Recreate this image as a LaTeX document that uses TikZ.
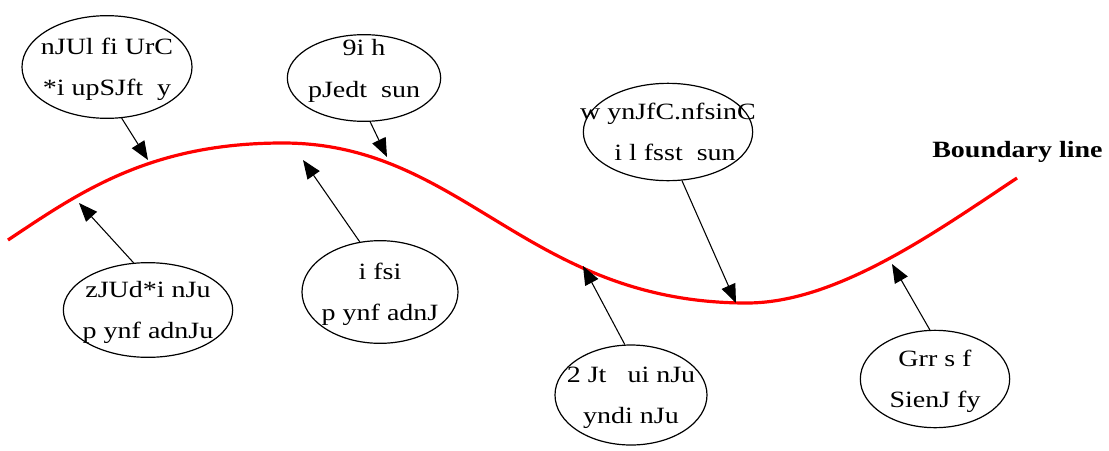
\documentclass[tikz,border=0pt]{standalone}
\usepackage{fontspec}
\setmainfont{Liberation Serif}[FakeStretch=1.2]
\usetikzlibrary{shapes.geometric,arrows.meta}
\newcommand{\twolines}[3][-4.25pt]{\smash{\makebox[0pt]{\raisebox{#1}{\begin{tabular}{@{}c@{}}#2\\\relax #3\end{tabular}}}}}
\begin{document}
\begin{tikzpicture}[x=0.75pt,y=-0.75pt,
  lbl/.style={ellipse,draw,line width=0.9pt,inner sep=0pt,font=\fontsize{17.5}{31}\selectfont},
  conn/.style={line width=0.8pt,-{Triangle[length=14pt,width=11pt]}},
  boundary/.style={red,line width=2.4pt}]
\useasboundingbox (0,0) rectangle (1109,450);
% boundary curve
\draw[boundary] (8,240) .. controls (80,192) and (150,143) .. (283,143)
  .. controls (463,143) and (527,303) .. (747,303)
  .. controls (837,303) and (937,231) .. (1017,178);
\coordinate (t1) at (148,160);
\coordinate (t2) at (387,157);
\coordinate (t3) at (736,303);
\coordinate (t4) at (79,203);
\coordinate (t5) at (303,160);
\coordinate (t6) at (583,266);
\coordinate (t7) at (892,264);
% ellipses
\node[lbl,minimum width=127.5pt,minimum height=77pt] (e1) at (107,67) {\twolines{nJUl fi UrC}{*i upSJft \ y}};
\node[lbl,minimum width=115pt,minimum height=65pt] (e2) at (364,78) {\twolines[3pt]{9i h}{pJedt \ sun}};
\node[lbl,minimum width=127pt,minimum height=73pt] (e3) at (668,132) {\twolines{w ynJfC.nfsinC}{\ \ i l fsst \ sun}};
\node[lbl,minimum width=127pt,minimum height=71pt] (e4) at (148,310) {\twolines{zJUd*i nJu}{p ynf adnJu}};
\node[lbl,minimum width=117pt,minimum height=77pt] (e5) at (380,292) {\twolines{i fsi}{p ynf adnJ}};
\node[lbl,minimum width=114pt,minimum height=75pt] (e6) at (631,395) {\twolines{2 Jt \ \ ui nJu}{yndi nJu}};
\node[lbl,minimum width=112pt,minimum height=73pt] (e7) at (935,379) {\twolines{Grr s f}{SienJ fy}};
\node[anchor=west,inner sep=0pt,font=\bfseries\fontsize{17.5}{20}\selectfont] (bl) at (932,152) {Boundary line};
% connectors
\draw[conn] (e1.-74) -- (t1);
\draw[conn] (e2.-82) -- (t2);
\draw[conn] (e3.-74) -- (t3);
\draw[conn] (e4.107) -- (t4);
\draw[conn] (e5.112) -- (t5);
\draw[conn] (e6.97) -- (t6);
\draw[conn] (e7.96) -- (t7);
\end{tikzpicture}
\end{document}
